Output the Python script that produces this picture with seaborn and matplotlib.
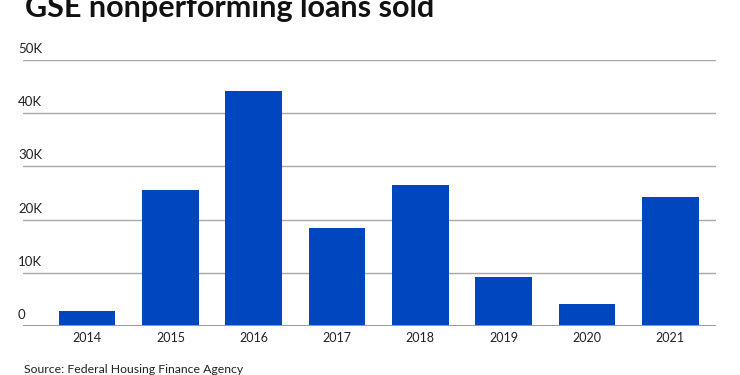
import matplotlib
matplotlib.use("Agg")
import matplotlib.pyplot as plt
import seaborn as sns
import pandas as pd

years = ["2014", "2015", "2016", "2017", "2018", "2019", "2020", "2021"]
loans_sold = [2800, 25600, 44200, 18400, 26500, 9200, 4100, 24200]
y_ticks = [0, 10000, 20000, 30000, 40000, 50000]
y_tick_labels = ["0", "10K", "20K", "30K", "40K", "50K"]
title = "GSE nonperforming loans sold"
source = "Source: Federal Housing Finance Agency"

sns.set_theme(style="white")
plt.rcParams["font.family"] = ["Lato", "DejaVu Sans"]

df = pd.DataFrame({"year": years, "loans": loans_sold})

fig = plt.figure(figsize=(7.4, 3.75), dpi=100)
ax = fig.add_axes([23 / 740, 49 / 375, (716 - 23) / 740, (326 - 60) / 375])

sns.barplot(data=df, x="year", y="loans", color="#0046BE", saturation=1,
            width=0.68, ax=ax, edgecolor="none")

ax.set_xlim(-0.77, 7.55)
ax.set_ylim(0, 50000)
ax.set_yticks(y_ticks)
ax.set_yticklabels([])
for v, lab in zip(y_ticks, y_tick_labels):
    ax.axhline(v, color="#a8a8a8", lw=1.0, zorder=0)
    ax.annotate(lab, xy=(0, v), xycoords=("axes fraction", "data"),
                xytext=(-5, 5), textcoords="offset pixels",
                fontsize=9.5, color="#222222", ha="left", va="bottom")
ax.axhline(0, color="#999999", lw=1.4, zorder=3)

ax.set_xlabel("")
ax.set_ylabel("")
ax.tick_params(axis="x", length=0, labelsize=9, colors="#222222", pad=4)
ax.tick_params(axis="y", length=0)
for s in ax.spines.values():
    s.set_visible(False)

fig.text(25 / 740, 1 - 17.5 / 375, title, fontsize=22, fontweight="bold",
         color="#111111", ha="left", va="baseline")
fig.text(24 / 740, 1 - 373 / 375, source, fontsize=8.8, color="#222222",
         ha="left", va="baseline")

fig.savefig("out.png", dpi=100)
